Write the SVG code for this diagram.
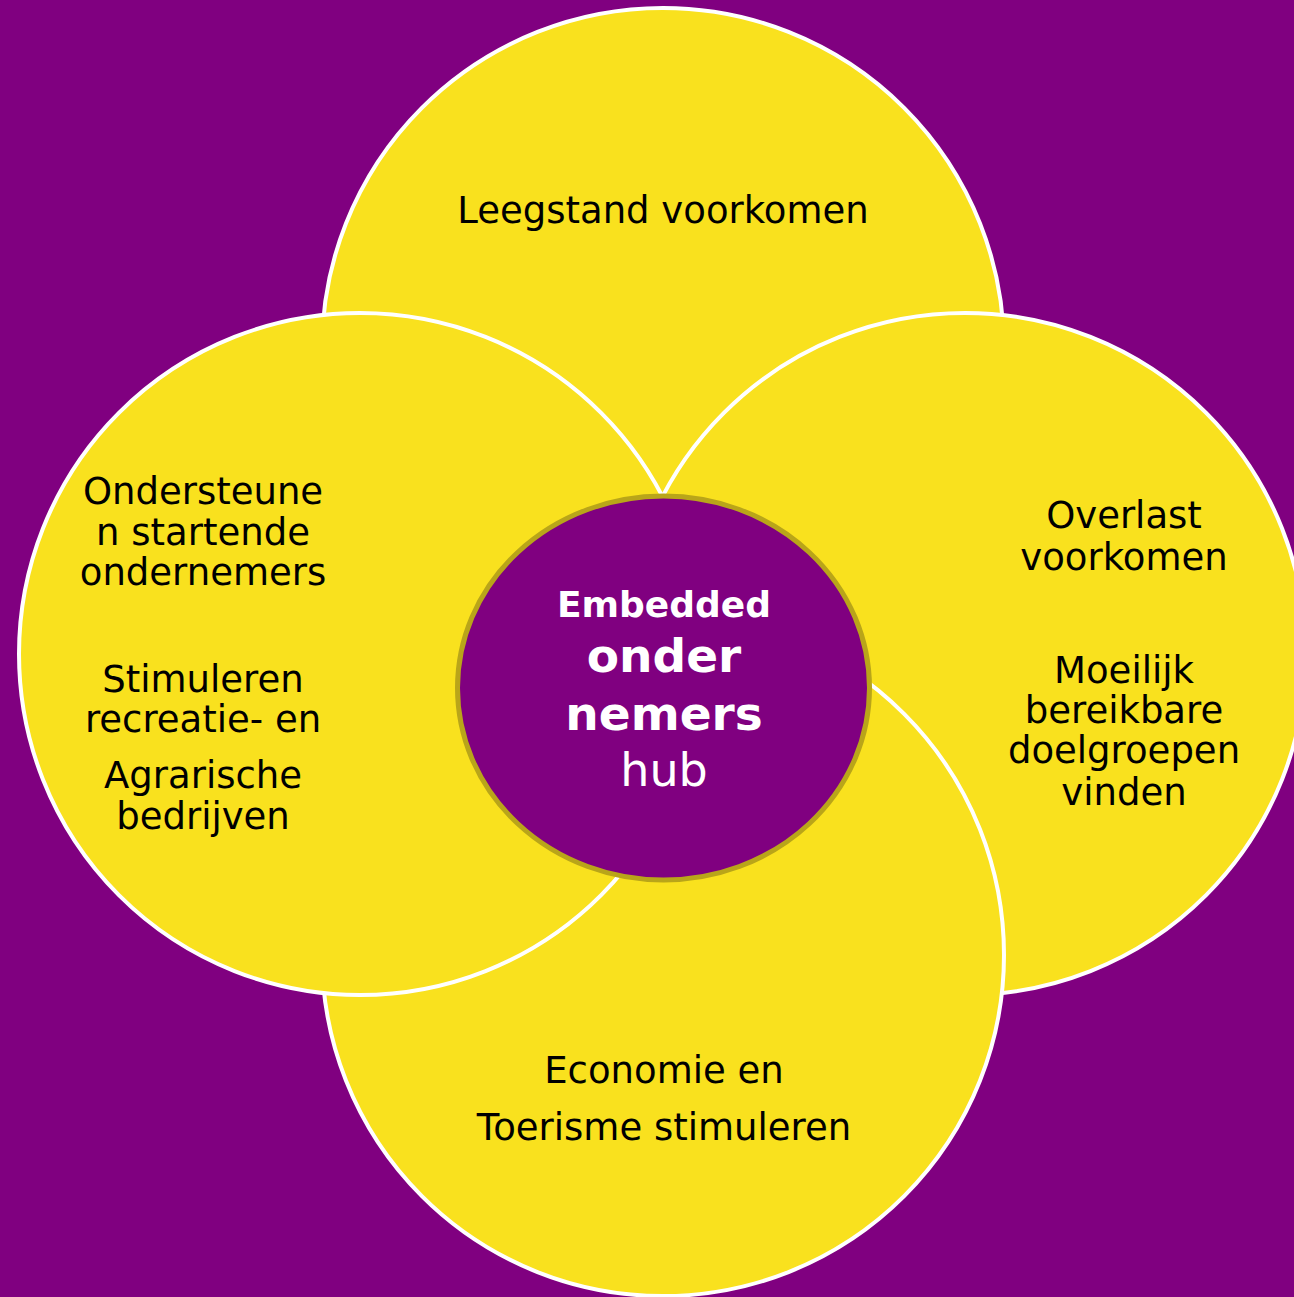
<svg xmlns="http://www.w3.org/2000/svg" width="1294" height="1297" viewBox="0 0 1294 1297">
<style>
.petal{fill:#F9E11E;stroke:#FFFFFF;stroke-width:4}
.t{font-family:"DejaVu Sans",Verdana,sans-serif;font-size:37px;fill:#000000;text-anchor:middle}
.c{font-family:"DejaVu Sans",Verdana,sans-serif;fill:#FFFFFF;text-anchor:middle}
</style>
<rect width="1294" height="1297" fill="#800080"/>
<g id="top">
<circle class="petal" cx="663" cy="349" r="341"/>
<text class="t" x="663" y="223">Leegstand voorkomen</text>
</g>
<g id="right">
<circle class="petal" cx="965" cy="654" r="341"/>
<text class="t" x="1124" y="528">Overlast</text>
<text class="t" x="1124" y="570">voorkomen</text>
<text class="t" x="1124" y="683">Moeilijk</text>
<text class="t" x="1124" y="723">bereikbare</text>
<text class="t" x="1124" y="763">doelgroepen</text>
<text class="t" x="1124" y="805">vinden</text>
</g>
<g id="bottom">
<circle class="petal" cx="663" cy="955" r="341"/>
<text class="t" x="664" y="1083">Economie en</text>
<text class="t" x="664" y="1140">Toerisme stimuleren</text>
</g>
<g id="left">
<circle class="petal" cx="360" cy="654" r="341"/>
<text class="t" x="203" y="504">Ondersteune</text>
<text class="t" x="203" y="545">n startende</text>
<text class="t" x="203" y="585">ondernemers</text>
<text class="t" x="203" y="692">Stimuleren</text>
<text class="t" x="203" y="732">recreatie- en</text>
<text class="t" x="203" y="788">Agrarische</text>
<text class="t" x="203" y="829">bedrijven</text>
</g>
<g id="hub">
<ellipse cx="663.5" cy="688" rx="206" ry="192" fill="#800080" stroke="#B9A519" stroke-width="5"/>
<text class="c" x="664" y="617" font-size="36" font-weight="bold">Embedded</text>
<text class="c" x="664" y="672" font-size="47" font-weight="bold">onder</text>
<text class="c" x="664" y="730" font-size="47" font-weight="bold">nemers</text>
<text class="c" x="664" y="786" font-size="46">hub</text>
</g>
<g id="connectors"/>
</svg>
